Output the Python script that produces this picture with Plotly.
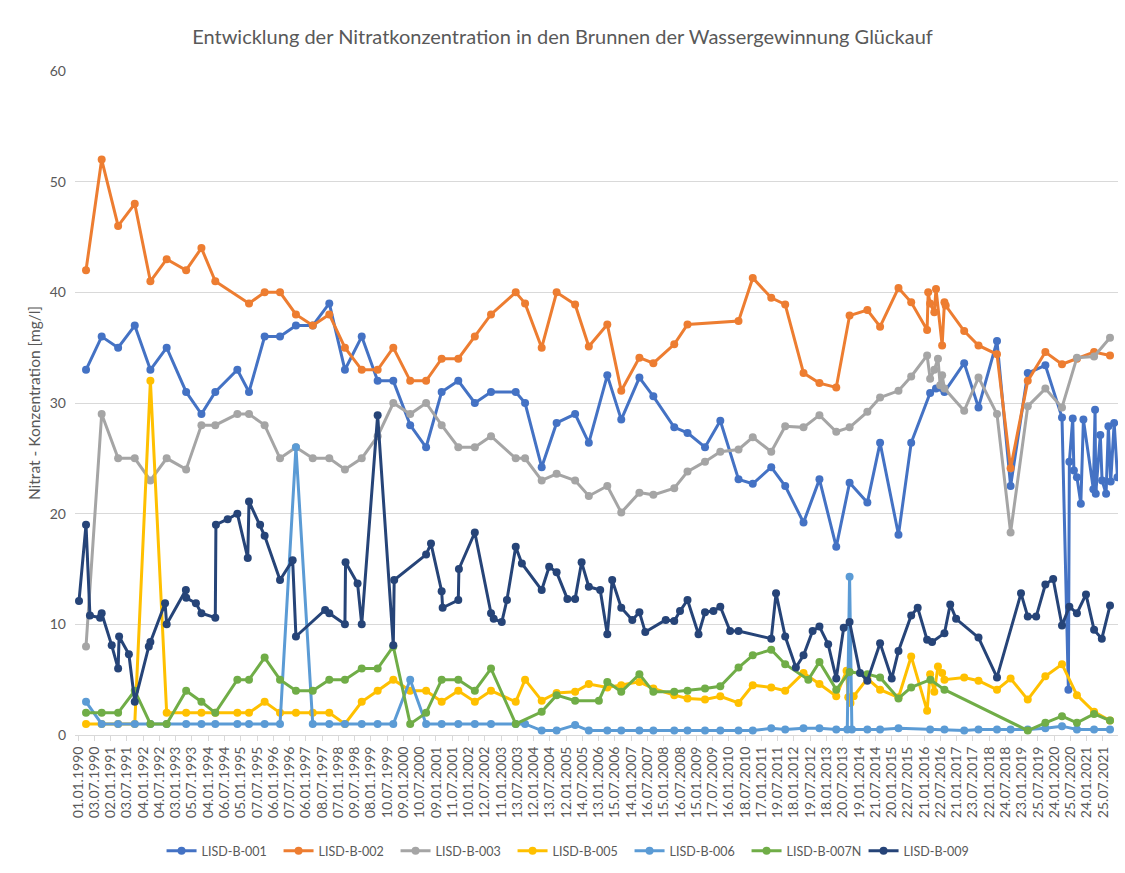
import plotly.graph_objects as go

# ---------------- data ----------------
tick_labels = ["01.01.1990","03.07.1990","02.01.1991","03.07.1991","04.01.1992","04.07.1992",
               "03.01.1993","05.07.1993","04.01.1994","06.07.1994","05.01.1995","07.07.1995",
               "06.01.1996","07.07.1996","06.01.1997","08.07.1997","07.01.1998","09.07.1998",
               "08.01.1999","10.07.1999","09.01.2000","10.07.2000","09.01.2001","11.07.2001",
               "10.01.2002","12.07.2002","11.01.2003","13.07.2003","12.01.2004","13.07.2004",
               "12.01.2005","14.07.2005","13.01.2006","15.07.2006","14.01.2007","16.07.2007",
               "15.01.2008","16.07.2008","15.01.2009","17.07.2009","16.01.2010","18.07.2010",
               "17.01.2011","19.07.2011","18.01.2012","19.07.2012","18.01.2013","20.07.2013",
               "19.01.2014","21.07.2014","20.01.2015","22.07.2015","21.01.2016","22.07.2016",
               "21.01.2017","23.07.2017","22.01.2018","24.07.2018","23.01.2019","25.07.2019",
               "24.01.2020","25.07.2020","24.01.2021","25.07.2021"]

b001_dates = ["1990-04-01","1990-09-24","1991-03-28","1991-10-01","1992-03-25","1992-09-24",
              "1993-05-01","1993-10-20","1994-03-25","1994-11-28","1995-04-08","1995-10-01",
              "1996-03-22","1996-09-17","1997-03-25","1997-09-27","1998-03-22","1998-09-27",
              "1999-03-25","1999-09-17","2000-03-25","2000-09-20","2001-03-14","2001-09-17",
              "2002-03-22","2002-09-20","2003-06-25","2003-10-08","2004-04-12","2004-09-27",
              "2005-04-23","2005-09-24","2006-04-20","2006-09-24","2007-04-16","2007-09-20",
              "2008-05-12","2008-10-08","2009-04-23","2009-10-12","2010-05-05","2010-10-12",
              "2011-05-08","2011-10-12","2012-05-05","2012-10-31","2013-05-08","2013-10-05",
              "2014-04-23","2014-09-13","2015-04-08","2015-08-29","2016-03-29","2016-06-03",
              "2016-09-06","2017-04-16","2017-09-24","2018-04-20","2018-09-20","2019-04-01",
              "2019-10-16","2020-04-20","2020-07-01","2020-07-12","2020-08-19","2020-09-01",
              "2020-10-05","2020-11-18","2020-12-17","2021-04-08","2021-04-27","2021-05-05",
              "2021-06-25","2021-07-15","2021-08-29","2021-09-24","2021-10-20","2021-11-28",
              "2022-01-04"]
b001_values = [33, 36, 35, 37, 33, 35, 31, 29, 31, 33, 31, 36,
               36, 37, 37, 39, 33, 36, 32, 32, 28, 26, 31, 32,
               30, 31, 31, 30, 24.2, 28.2, 29.0, 26.4, 32.5, 28.5, 32.3, 30.6,
               27.8, 27.3, 26.0, 28.4, 23.1, 22.7, 24.2, 22.5, 19.2, 23.1, 17.0, 22.8,
               21.0, 26.4, 18.1, 26.4, 30.9, 31.3, 31.0, 33.6, 29.6, 35.6, 22.5, 32.7,
               33.4, 28.7, 4.1, 24.7, 28.6, 23.9, 23.3, 20.9, 28.5, 22.2, 29.4, 21.8,
               27.1, 23.0, 21.8, 27.9, 22.9, 28.2, 23.3]

b002_dates = ["1990-04-01","1990-09-24","1991-03-28","1991-10-01","1992-03-25","1992-09-24",
              "1993-05-01","1993-10-20","1994-03-25","1995-04-08","1995-10-01","1996-03-22",
              "1996-09-17","1997-03-25","1997-09-27","1998-03-22","1998-09-27","1999-03-25",
              "1999-09-17","2000-03-25","2000-09-20","2001-03-14","2001-09-17","2002-03-22",
              "2002-09-20","2003-06-25","2003-10-08","2004-04-12","2004-09-27","2005-04-23",
              "2005-09-24","2006-04-20","2006-09-24","2007-04-16","2007-09-20","2008-05-12",
              "2008-10-08","2010-05-05","2010-10-12","2011-05-08","2011-10-12","2012-05-05",
              "2012-10-31","2013-05-08","2013-10-05","2014-04-23","2014-09-13","2015-04-08",
              "2015-08-29","2016-02-24","2016-03-07","2016-03-29","2016-05-15","2016-06-03",
              "2016-08-11","2016-09-06","2016-09-20","2017-04-16","2017-09-24","2018-04-20",
              "2018-09-20","2019-04-01","2019-10-16","2020-04-20","2020-10-05","2021-04-16",
              "2021-10-12"]
b002_values = [42, 52, 46, 48, 41, 43, 42, 44, 41, 39, 40, 40,
               38, 37, 38, 35, 33, 33, 35, 32, 32, 34, 34, 36,
               38, 40, 39, 35, 40, 38.9, 35.1, 37.1, 31.1, 34.1, 33.6, 35.3,
               37.1, 37.4, 41.3, 39.5, 38.9, 32.7, 31.8, 31.4, 37.9, 38.4, 36.9, 40.4,
               39.1, 36.6, 40.0, 39.0, 38.2, 40.3, 35.2, 39.1, 38.8, 36.5, 35.2, 34.4,
               24.1, 32.0, 34.6, 33.5, 34.0, 34.6, 34.3]

b003_dates = ["1990-04-01","1990-09-24","1991-03-28","1991-10-01","1992-03-25","1992-09-24",
              "1993-05-01","1993-10-20","1994-03-25","1994-11-28","1995-04-08","1995-10-01",
              "1996-03-22","1996-09-17","1997-03-25","1997-09-27","1998-03-22","1998-09-27",
              "1999-03-25","1999-09-17","2000-03-25","2000-09-20","2001-03-14","2001-09-17",
              "2002-03-22","2002-09-20","2003-06-25","2003-10-08","2004-04-12","2004-09-27",
              "2005-04-23","2005-09-24","2006-04-20","2006-09-24","2007-04-16","2007-09-20",
              "2008-05-12","2008-10-08","2009-04-23","2009-10-12","2010-05-05","2010-10-12",
              "2011-05-08","2011-10-12","2012-05-05","2012-10-31","2013-05-08","2013-10-05",
              "2014-04-23","2014-09-13","2015-04-08","2015-08-29","2016-02-24","2016-03-29",
              "2016-05-15","2016-06-25","2016-07-20","2016-08-11","2016-09-06","2017-04-16",
              "2017-09-24","2018-04-20","2018-09-20","2019-04-01","2019-10-16","2020-04-20",
              "2020-10-05","2021-04-16","2021-10-12"]
b003_values = [8, 29, 25, 25, 23, 25, 24, 28, 28, 29, 29, 28,
               25, 26, 25, 25, 24, 25, 27, 30, 29, 30, 28, 26,
               26, 27, 25, 25, 23, 23.6, 23.0, 21.6, 22.5, 20.1, 21.9, 21.7,
               22.3, 23.8, 24.7, 25.6, 25.8, 26.9, 25.6, 27.9, 27.8, 28.9, 27.4, 27.8,
               29.2, 30.5, 31.1, 32.4, 34.3, 32.2, 33.0, 34.0, 31.6, 32.5, 31.3, 29.3,
               32.3, 29.0, 18.3, 29.7, 31.3, 29.6, 34.1, 34.2, 35.9]

b005_dates = ["1990-04-01","1990-09-24","1991-03-28","1991-10-01","1992-03-25","1992-09-24",
              "1993-05-01","1993-10-20","1994-03-25","1994-11-28","1995-04-08","1995-10-01",
              "1996-03-22","1996-09-17","1997-03-25","1997-09-27","1998-03-22","1998-09-27",
              "1999-03-25","1999-09-17","2000-03-25","2000-09-20","2001-03-14","2001-09-17",
              "2002-03-22","2002-09-20","2003-06-25","2003-10-08","2004-04-12","2004-09-27",
              "2005-04-23","2005-09-24","2006-04-20","2006-09-24","2007-04-16","2007-09-20",
              "2008-05-12","2008-10-08","2009-04-23","2009-10-12","2010-05-05","2010-10-12",
              "2011-05-08","2011-10-12","2012-05-05","2012-10-31","2013-05-08","2013-09-01",
              "2013-09-20","2013-10-15","2013-11-20","2014-04-23","2014-09-13","2015-04-08",
              "2015-08-29","2016-02-24","2016-03-29","2016-05-15","2016-06-25","2016-08-11",
              "2016-09-06","2017-04-16","2017-09-24","2018-04-20","2018-09-20","2019-04-01",
              "2019-10-16","2020-04-20","2020-10-05","2021-04-16","2021-10-12"]
b005_values = [1, 1, 1, 1, 32, 2, 2, 2, 2, 2, 2, 3,
               2, 2, 2, 2, 1, 3, 4, 5, 4, 4, 3, 4,
               3, 4, 3, 5, 3.1, 3.8, 3.9, 4.6, 4.3, 4.5, 4.8, 4.2,
               3.6, 3.3, 3.2, 3.5, 2.9, 4.5, 4.3, 4.0, 5.6, 4.6, 3.5, 5.8,
               3.4, 2.9, 3.5, 5.1, 4.1, 3.4, 7.1, 2.2, 5.5, 3.9, 6.2, 5.6,
               5.0, 5.2, 4.9, 4.1, 5.1, 3.2, 5.3, 6.4, 3.6, 2.1, 1.3]

b006_dates = ["1990-04-01","1990-09-24","1991-03-28","1991-10-01","1992-03-25","1992-09-24",
              "1993-05-01","1993-10-20","1994-03-25","1994-11-28","1995-04-08","1995-10-01",
              "1996-03-22","1996-09-17","1997-03-25","1997-09-27","1998-03-22","1998-09-27",
              "1999-03-25","1999-09-17","2000-03-25","2000-09-20","2001-03-14","2001-09-17",
              "2002-03-22","2002-09-20","2003-06-25","2003-10-08","2004-04-12","2004-09-27",
              "2005-04-23","2005-09-24","2006-04-20","2006-09-24","2007-04-16","2007-09-20",
              "2008-05-12","2008-10-08","2009-04-23","2009-10-12","2010-05-05","2010-10-12",
              "2011-05-08","2011-10-12","2012-05-05","2012-10-31","2013-05-08","2013-09-09",
              "2013-10-05","2013-10-31","2014-04-23","2014-09-13","2015-04-08","2016-03-29",
              "2016-09-06","2017-04-16","2017-09-24","2018-04-20","2018-09-20","2019-04-01",
              "2019-10-16","2020-04-20","2020-10-05","2021-04-16","2021-10-12"]
b006_values = [3, 1, 1, 1, 1, 1, 1, 1, 1, 1, 1, 1,
               1, 26, 1, 1, 1, 1, 1, 1, 5, 1, 1, 1,
               1, 1, 1, 1, 0.4, 0.4, 0.9, 0.4, 0.4, 0.4, 0.4, 0.4,
               0.4, 0.4, 0.4, 0.4, 0.4, 0.4, 0.6, 0.5, 0.6, 0.6, 0.5, 0.5,
               14.3, 0.5, 0.5, 0.5, 0.6, 0.5, 0.5, 0.4, 0.5, 0.5, 0.5, 0.5,
               0.6, 0.8, 0.5, 0.5, 0.5]

b007n_dates = ["1990-04-01","1990-09-24","1991-03-28","1991-10-01","1992-03-25","1992-09-24",
               "1993-05-01","1993-10-20","1994-03-25","1994-11-28","1995-04-08","1995-10-01",
               "1996-03-22","1996-09-17","1997-03-25","1997-09-27","1998-03-22","1998-09-27",
               "1999-03-25","1999-09-17","2000-03-25","2000-09-20","2001-03-14","2001-09-17",
               "2002-03-22","2002-09-20","2003-06-25","2004-04-12","2004-09-27","2005-04-23",
               "2006-01-15","2006-04-20","2006-09-24","2007-04-16","2007-09-20","2008-05-12",
               "2008-10-08","2009-04-23","2009-10-12","2010-05-05","2010-10-12","2011-05-08",
               "2011-10-12","2012-06-28","2012-10-31","2013-05-08","2013-10-05","2014-04-23",
               "2014-09-13","2015-04-08","2015-08-29","2016-04-01","2016-09-06","2019-04-01",
               "2019-10-16","2020-04-20","2020-10-05","2021-04-16","2021-10-12"]
b007n_values = [2, 2, 2, 4, 1, 1, 4, 3, 2, 5, 5, 7,
                5, 4, 4, 5, 5, 6, 6, 8, 1, 2, 5, 5,
                4, 6, 1, 2.1, 3.6, 3.1, 3.1, 4.8, 3.9, 5.5, 3.9, 3.9,
                4.0, 4.2, 4.4, 6.1, 7.2, 7.7, 6.4, 5.0, 6.6, 4.1, 5.7, 5.5,
                5.2, 3.3, 4.3, 5.0, 4.1, 0.4, 1.1, 1.7, 1.1, 1.9, 1.3]

b009_dates = ["1990-01-12","1990-04-01","1990-05-15","1990-09-06","1990-09-24","1991-01-15",
              "1991-03-28","1991-04-08","1991-07-27","1991-10-01","1992-03-07","1992-03-25",
              "1992-09-06","1992-09-24","1993-04-28","1993-05-02","1993-08-19","1993-10-20",
              "1994-03-25","1994-04-01","1994-08-11","1994-11-28","1995-03-25","1995-04-08",
              "1995-08-11","1995-10-01","1996-03-22","1996-08-11","1996-09-17","1997-08-11",
              "1997-09-27","1998-03-22","1998-03-29","1998-08-11","1998-09-27","1999-03-25",
              "1999-09-17","1999-09-27","2000-09-20","2000-11-14","2001-03-14","2001-03-25",
              "2001-09-17","2001-09-24","2002-03-22","2002-09-20","2002-10-20","2003-01-19",
              "2003-03-18","2003-06-25","2003-09-02","2004-04-12","2004-07-05","2004-09-27",
              "2005-01-26","2005-04-23","2005-07-05","2005-09-24","2006-01-30","2006-04-20",
              "2006-06-14","2006-09-24","2007-01-26","2007-04-16","2007-06-21","2008-02-06",
              "2008-05-12","2008-07-16","2008-10-08","2009-02-09","2009-04-23","2009-07-27",
              "2009-10-12","2010-01-30","2010-05-05","2011-05-08","2011-07-01","2011-10-12",
              "2012-02-09","2012-05-05","2012-08-15","2012-10-31","2013-02-06","2013-05-08",
              "2013-07-31","2013-10-05","2014-01-30","2014-04-23","2014-09-13","2015-01-22",
              "2015-04-08","2015-08-29","2015-11-10","2016-02-24","2016-04-20","2016-09-06",
              "2016-11-10","2017-01-15","2017-09-24","2018-04-20","2019-01-15","2019-04-01",
              "2019-07-05","2019-10-16","2020-01-12","2020-04-20","2020-07-12","2020-10-05",
              "2021-01-15","2021-04-16","2021-07-12","2021-10-12"]
b009_values = [12.1, 19.0, 10.8, 10.6, 11.0, 8.1,
               6.0, 8.9, 7.3, 3.0, 8.0, 8.4,
               11.9, 10.0, 13.1, 12.4, 11.9, 11.0,
               10.6, 19.0, 19.5, 20.0, 16.0, 21.1,
               19.0, 18.0, 14.0, 15.8, 8.9, 11.3,
               11.0, 10.0, 15.6, 13.7, 10.0, 28.9,
               8.1, 14.0, 16.3, 17.3, 13.0, 11.5,
               12.2, 15.0, 18.3, 11.0, 10.5, 10.2,
               12.2, 17.0, 15.5, 13.1, 15.2, 14.7,
               12.3, 12.3, 15.6, 13.4, 13.1, 9.1,
               14.0, 11.5, 10.4, 11.1, 9.3, 10.4,
               10.3, 11.2, 12.2, 9.1, 11.1, 11.2,
               11.6, 9.4, 9.4, 8.7, 12.8, 8.9,
               6.1, 7.2, 9.4, 9.8, 8.2, 5.1,
               9.7, 10.2, 5.6, 4.9, 8.3, 5.1,
               7.6, 10.8, 11.5, 8.6, 8.4, 9.2,
               11.8, 10.5, 8.8, 5.2, 12.8, 10.7,
               10.7, 13.6, 14.1, 9.9, 11.6, 11.0,
               12.7, 9.5, 8.7, 11.7]

series_names = ["LISD-B-001", "LISD-B-002", "LISD-B-003", "LISD-B-005",
                "LISD-B-006", "LISD-B-007N", "LISD-B-009"]
series_colors = ["#4472C4", "#ED7D31", "#A5A5A5", "#FFC000", "#5B9BD5", "#70AD47", "#264478"]
series_data = [(b001_dates, b001_values), (b002_dates, b002_values), (b003_dates, b003_values),
               (b005_dates, b005_values), (b006_dates, b006_values), (b007n_dates, b007n_values),
               (b009_dates, b009_values)]

title_text = "Entwicklung der Nitratkonzentration in den Brunnen der Wassergewinnung Glückauf"
y_title = "Nitrat - Konzentration [mg/l]"

# ---------------- figure ----------------
FONT = "Lato, 'Open Sans', sans-serif"
GREY = "#595959"

fig = go.Figure()
for name, color, (d, v) in zip(series_names, series_colors, series_data):
    fig.add_trace(go.Scatter(
        x=d, y=v, name=name, mode="lines+markers",
        line=dict(color=color, width=3),
        marker=dict(color=color, size=8, symbol="circle"),
    ))

tick_vals = ["%s-%s-%s" % (t[6:10], t[3:5], t[0:2]) for t in tick_labels]

fig.update_layout(
    width=1125, height=873,
    margin=dict(l=75, r=7, t=71, b=138),
    paper_bgcolor="white", plot_bgcolor="white",
    font=dict(family=FONT, color=GREY),
    title=dict(text=title_text, x=0.5, xref="container", xanchor="center",
               y=1 - 37 / 873, yanchor="middle",
               font=dict(size=20, color=GREY, family=FONT)),
    showlegend=True,
    legend=dict(orientation="h", x=0.5076, xref="container", xanchor="center",
                y=1 - 851 / 873, yanchor="middle", yref="container",
                font=dict(size=12.5, color=GREY, family=FONT),
                entrywidth=72, itemwidth=30, bgcolor="rgba(0,0,0,0)"),
    xaxis=dict(type="date", range=["1989-11-28", "2022-01-10"],
               tickmode="array", tickvals=tick_vals, ticktext=tick_labels,
               tickangle=-90, tickfont=dict(size=14, color=GREY, family=FONT),
               ticks="outside", ticklen=5, tickcolor="#D9D9D9",
               showline=True, linecolor="#D9D9D9", linewidth=1,
               showgrid=False, zeroline=False),
    yaxis=dict(range=[0, 60], tickmode="linear", tick0=0, dtick=10,
               tickfont=dict(size=14, color=GREY, family=FONT),
               showgrid=True, gridcolor="#D9D9D9", gridwidth=1,
               zeroline=False, showline=False, ticks="", ticklabelstandoff=8,
               title=dict(text=y_title, font=dict(size=15.5, color=GREY, family=FONT), standoff=5)),
)

fig.write_html("out.html", config={"displayModeBar": False},
               post_script="document.body.style.margin='0';")
